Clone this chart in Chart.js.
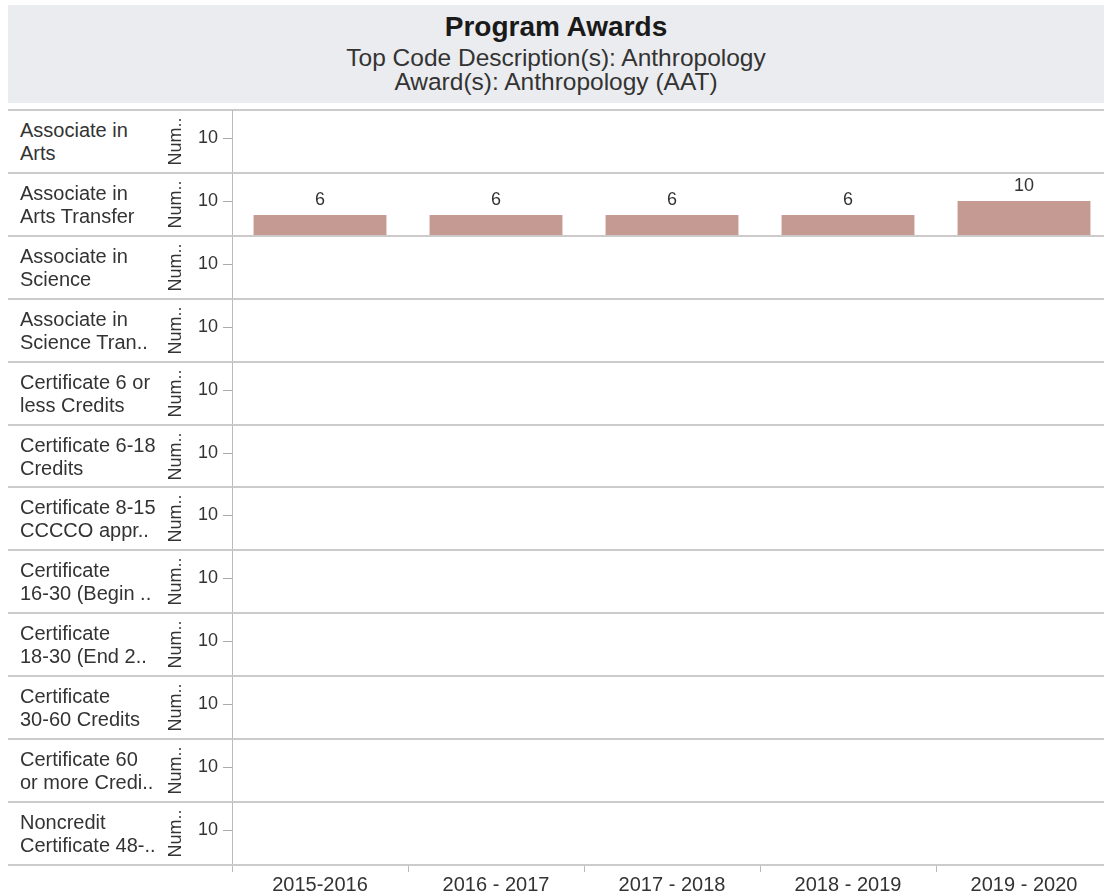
<!DOCTYPE html>
<html>
<head>
<meta charset="utf-8">
<script src="https://cdn.jsdelivr.net/npm/chart.js@4.4.1/dist/chart.umd.min.js"></script>
<style>
  body { margin: 0; width: 1104px; height: 896px; overflow: hidden; background: #fff;
         font-family: "Liberation Sans", Arial, sans-serif; color: #333; position: relative; }
  #header { position: absolute; left: 8px; top: 5px; width: 1096px; height: 98px; background: #ebecef; text-align: center; }
  #header .t { position: absolute; left: 0; right: 0; top: 5px; font-size: 28px; line-height: 34px; font-weight: bold; color: #1a1a1a; }
  #header .s { position: absolute; left: 0; right: 0; font-size: 24.5px; line-height: 28px; color: #333; }
  .line { position: absolute; left: 8px; width: 1096px; height: 0; border-top: 2px solid #cbcbcb; }
  .lab { position: absolute; left: 20px; width: 150px; font-size: 20px; line-height: 23px; white-space: pre-line;
         display: flex; align-items: center; color: #333; }
  canvas { position: absolute; left: 160px; }
</style>
</head>
<body>
<div id="header">
  <div class="t">Program Awards</div>
  <div class="s" style="top:39px">Top Code Description(s): Anthropology</div>
  <div class="s" style="top:63px">Award(s): Anthropology (AAT)</div>
</div>
<div id="rows"></div>
<script>
// data
const awardTypes = [
  'Associate in\nArts',
  'Associate in\nArts Transfer',
  'Associate in\nScience',
  'Associate in\nScience Tran..',
  'Certificate 6 or\nless Credits',
  'Certificate 6-18\nCredits',
  'Certificate 8-15\nCCCCO appr..',
  'Certificate\n16-30 (Begin ..',
  'Certificate\n18-30 (End 2..',
  'Certificate\n30-60 Credits',
  'Certificate 60\nor more Credi..',
  'Noncredit\nCertificate 48-..'
];
const years = ['2015-2016', '2016 - 2017', '2017 - 2018', '2018 - 2019', '2019 - 2020'];
const aatCounts = [6, 6, 6, 6, 10];   // only "Associate in Arts Transfer" has awards
const yTicks = [10];

const rowTop0 = 110;
const rowH = 62.9;
const barColor = 'rgb(196, 154, 146)';
const fontFamily = '"Liberation Sans", Arial, sans-serif';

// value labels above the bars
const valueLabels = {
  id: 'valueLabels',
  afterDatasetsDraw(chart) {
    const ctx = chart.ctx;
    ctx.save();
    ctx.font = '18px ' + fontFamily;
    ctx.fillStyle = '#333';
    ctx.textAlign = 'center';
    ctx.textBaseline = 'middle';
    chart.getDatasetMeta(0).data.forEach((bar, i) => {
      const v = chart.data.datasets[0].data[i];
      if (v == null) return;
      ctx.fillText(v, bar.x, bar.y - 15);
    });
    ctx.restore();
  }
};

const rows = document.getElementById('rows');

awardTypes.forEach((name, i) => {
  const top = Math.round(rowTop0 + i * rowH);
  const last = i === awardTypes.length - 1;

  const line = document.createElement('div');
  line.className = 'line';
  line.style.top = (top - 1) + 'px';
  rows.appendChild(line);

  const lab = document.createElement('div');
  lab.className = 'lab';
  lab.style.top = top + 'px';
  lab.style.height = Math.round(rowH) + 'px';
  lab.textContent = name;
  rows.appendChild(lab);

  const cv = document.createElement('canvas');
  cv.width = 952;
  cv.height = last ? 63 + 32 : 63;
  cv.style.top = top + 'px';
  rows.appendChild(cv);

  const values = name === 'Associate in\nArts Transfer' ? aatCounts : years.map(() => null);

  new Chart(cv, {
    type: 'bar',
    data: {
      labels: years,
      datasets: [{
        data: values,
        backgroundColor: barColor,
        categoryPercentage: 0.755,
        barPercentage: 1
      }]
    },
    options: {
      responsive: false,
      animation: false,
      layout: { padding: 0 },
      plugins: { legend: { display: false }, tooltip: { enabled: false } },
      scales: {
        x: {
          display: last,
          grid: { offset: true, drawOnChartArea: false, tickLength: 7, color: '#bbb' },
          border: { display: true, color: '#cbcbcb', width: 2 },
          ticks: { font: { size: 20, family: fontFamily }, color: '#333', padding: 1, maxRotation: 0 },
          afterFit: s => {
            if (last) s.height = 32;
            s.paddingLeft = 0;
            s.paddingRight = 0;
          }
        },
        y: {
          min: 0,
          max: 18,
          afterBuildTicks: s => { s.ticks = yTicks.map(v => ({ value: v })); },
          afterFit: s => {
            s.width = 72;
            s.paddingTop = 0;
            s.paddingBottom = 0;
          },
          grid: { drawOnChartArea: false, tickLength: 9, color: '#aaa' },
          border: { display: true, color: '#bbb' },
          ticks: { font: { size: 18, family: fontFamily }, color: '#333', padding: 5 },
          title: {
            display: true,
            text: 'Num..',
            font: { size: 18, family: fontFamily },
            color: '#333',
            padding: { top: 5, bottom: 0 }
          }
        }
      }
    },
    plugins: [valueLabels]
  });
});

const endLine = document.createElement('div');
endLine.className = 'line';
endLine.style.top = Math.round(rowTop0 + awardTypes.length * rowH - 1) + 'px';
rows.appendChild(endLine);
</script>
</body>
</html>
